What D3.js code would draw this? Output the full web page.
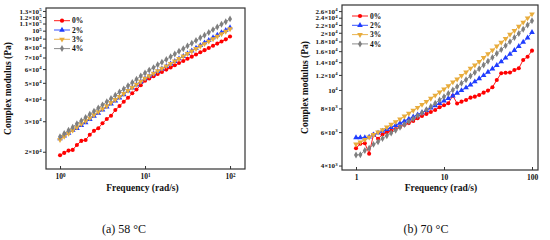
<!DOCTYPE html>
<html>
<head>
<meta charset="utf-8">
<script src="https://cdn.jsdelivr.net/npm/d3@7"></script>
<style>
  body { margin: 0; background: #fff; }
  svg { display: block; }
  text { font-family: "Liberation Serif", "Times New Roman", serif; }
</style>
</head>
<body>
<div id="chart"></div>
<script>
// frequency points, rad/s (same sweep in both tests)
const freq = [1, 1.12, 1.26, 1.41, 1.58, 1.78, 2, 2.24, 2.51, 2.82, 3.16, 3.55, 3.98, 4.47, 5.01,
  5.62, 6.31, 7.08, 7.94, 8.91, 10, 11.2, 12.6, 14.1, 15.8, 17.8, 20, 22.4, 25.1, 28.2, 31.6,
  35.5, 39.8, 44.7, 50.1, 56.2, 63.1, 70.8, 79.4, 89.1, 100];

const seriesNames = ["0%", "2%", "3%", "4%"];
const seriesColors = ["#ff0000", "#1f3dff", "#e8ac3c", "#7f7f7f"];

// (a) 58 °C, complex modulus in Pa
const a58_0 = [19100, 19700, 20300, 20500, 21900, 23100, 23400, 25100, 26400, 27300, 29200, 30900,
  32300, 34800, 36700, 38900, 41000, 43500, 45800, 48400, 51400, 52900, 54500, 56200, 57800, 59600,
  61300, 63100, 65000, 66900, 68800, 70800, 72900, 75000, 77200, 79500, 81800, 84200, 86600, 89100, 92500];
const a58_2 = [23800, 24700, 25600, 26700, 27300, 28400, 29500, 30800, 32100, 33400, 34900, 36300,
  37800, 39400, 41000, 42700, 44900, 46800, 48700, 50700, 52800, 54600, 56400, 58300, 60200, 62300,
  64400, 66600, 68900, 71200, 73700, 76600, 79400, 82200, 85200, 87900, 91200, 94300, 97700, 100600, 104200];
const a58_3 = [23500, 24500, 25500, 26600, 27700, 28900, 30100, 31300, 32600, 34000, 35400, 36800,
  38400, 40000, 41600, 43300, 45100, 47000, 49000, 51000, 53100, 54900, 56700, 58600, 60500, 62500,
  64600, 66800, 69000, 71300, 73700, 76200, 78700, 81300, 84000, 86800, 89700, 92700, 95800, 99000, 102300];
const a58_4 = [24400, 25500, 26600, 27700, 29000, 30200, 31500, 32900, 34300, 35800, 37300, 38900,
  40600, 42400, 44300, 46100, 48100, 50200, 52400, 54700, 57000, 59200, 61200, 63500, 65800, 68200,
  70800, 73300, 76000, 78700, 81700, 84700, 87700, 91000, 94200, 97700, 101400, 105000, 108900, 112700, 117000];

// (b) 70 °C, complex modulus in Pa
const b70_0 = [4930, 5210, 5240, 4620, 5820, 5540, 5830, 5990, 6100, 6230, 6390, 6550, 6690, 6870,
  7100, 7300, 7480, 7660, 7850, 8110, 8310, 8510, 9330, 8480, 8680, 8860, 9110, 9220, 9410, 9680,
  9920, 10330, 11290, 12240, 12330, 12350, 12740, 13010, 14390, 14970, 16100];
const b70_2 = [5620, 5620, 5610, 5660, 5800, 5940, 6070, 6210, 6360, 6520, 6690, 6860, 7040, 7220,
  7410, 7610, 7820, 8040, 8270, 8510, 8760, 9030, 9310, 9620, 9940, 10280, 10650, 11050, 11470,
  11920, 12410, 12930, 13490, 14090, 14740, 15430, 16180, 16980, 17850, 18800, 20120];
const b70_3 = [5180, 5320, 5480, 5640, 5810, 5990, 6170, 6370, 6580, 6800, 7030, 7270, 7530, 7800,
  8080, 8380, 8690, 9020, 9370, 9740, 10100, 10500, 11000, 11400, 11900, 12400, 13000, 13500, 14100,
  14800, 15500, 16200, 17000, 17800, 18600, 19600, 20500, 21600, 22700, 23900, 25100];
const b70_4 = [4550, 4560, 4800, 4930, 5170, 5340, 5550, 5740, 5940, 6140, 6360, 6580, 6820, 7060,
  7320, 7590, 7880, 8190, 8510, 8850, 9210, 9590, 9990, 10410, 10860, 11330, 11840, 12360, 12930,
  13530, 14160, 14830, 15550, 16300, 17110, 17960, 18880, 19840, 20870, 21960, 23130];

// tick values and labels ([base, superscript])
const aXTicks = [1, 10, 100];
const aXLabels = [["10", "0"], ["10", "1"], ["10", "2"]];
const aYTicks = [20000, 30000, 40000, 50000, 60000, 70000, 80000, 90000, 100000, 110000, 120000, 130000];
const aYLabels = [["2\u00d710", "4"], ["3\u00d710", "4"], ["4\u00d710", "4"], ["5\u00d710", "4"],
  ["6\u00d710", "4"], ["7\u00d710", "4"], ["8\u00d710", "4"], ["9\u00d710", "4"], ["10", "5"],
  ["1.1\u00d710", "5"], ["1.2\u00d710", "5"], ["1.3\u00d710", "5"]];
const bXTicks = [1, 10, 100];
const bXLabels = [["1", ""], ["10", ""], ["100", ""]];
const bYTicks = [4000, 6000, 8000, 10000, 12000, 14000, 16000, 18000, 20000, 22000, 24000, 26000];
const bYLabels = [["4\u00d710", "3"], ["6\u00d710", "3"], ["8\u00d710", "3"], ["10", "4"],
  ["1.2\u00d710", "4"], ["1.4\u00d710", "4"], ["1.6\u00d710", "4"], ["1.8\u00d710", "4"],
  ["2\u00d710", "4"], ["2.2\u00d710", "4"], ["2.4\u00d710", "4"], ["2.6\u00d710", "4"]];

const symbols = [
  { type: d3.symbolCircle, rotate: 0 },
  { type: d3.symbolTriangle, rotate: 0 },
  { type: d3.symbolTriangle, rotate: 180 },
  { type: d3.symbolDiamond, rotate: 0 }
];

const svg = d3.select("#chart").append("svg")
  .attr("width", 550)
  .attr("height", 240);

// rewrite axis labels as base + raised exponent
function supLabels(sel, labels, size) {
  sel.selectAll(".tick text").each(function (d, i) {
    const t = d3.select(this).text(null)
      .attr("font-size", size).attr("font-weight", "bold").attr("fill", "#111");
    t.append("tspan").text(labels[i][0]);
    if (labels[i][1]) {
      t.append("tspan").attr("dy", -2.8).attr("font-size", size * 0.68).text(labels[i][1]);
    }
  });
}

function drawPanel(p) {
  const x = d3.scaleLog().domain(p.xDomain).range([p.left, p.right]);
  const y = d3.scaleLog().domain(p.yDomain).range([p.bottom, p.top]);
  const g = svg.append("g");

  // x axis, ticks pointing in
  const xAxis = g.append("g")
    .attr("transform", "translate(0," + p.bottom + ")")
    .call(d3.axisBottom(x).tickValues(p.xTicks)
      .tickSizeInner(-3).tickSizeOuter(0).tickPadding(5));
  xAxis.select(".domain").remove();
  xAxis.selectAll("line").attr("stroke", "#333");
  supLabels(xAxis, p.xLabels, 7.5);

  const yAxis = g.append("g")
    .attr("transform", "translate(" + p.left + ",0)")
    .call(d3.axisLeft(y).tickValues(p.yTicks)
      .tickSizeInner(3).tickSizeOuter(0).tickPadding(1.5));
  yAxis.select(".domain").remove();
  yAxis.selectAll("line").attr("stroke", "#333");
  supLabels(yAxis, p.yLabels, 7);

  // frame
  g.append("rect")
    .attr("x", p.left).attr("y", p.top)
    .attr("width", p.right - p.left).attr("height", p.bottom - p.top)
    .attr("fill", "none").attr("stroke", "#333").attr("stroke-width", 1.2);

  const line = d3.line()
    .x(function (d) { return x(d[0]); })
    .y(function (d) { return y(d[1]); });

  p.series.forEach(function (vals, k) {
    const pts = freq.map(function (f, i) { return [f, vals[i]]; });
    g.append("path").datum(pts)
      .attr("d", line)
      .attr("fill", "none")
      .attr("stroke", seriesColors[k])
      .attr("stroke-width", 0.9);
    const sym = d3.symbol().type(symbols[k].type).size(k === 0 ? 13 : 14);
    g.append("g").selectAll("path")
      .data(pts)
      .enter()
      .append("path")
      .attr("d", sym)
      .attr("transform", function (d) {
        return "translate(" + x(d[0]) + "," + y(d[1]) + ") rotate(" + symbols[k].rotate + ")";
      })
      .attr("fill", seriesColors[k]);
  });

  // legend
  seriesNames.forEach(function (name, k) {
    const ly = p.legendY + k * 9.3;
    g.append("line")
      .attr("x1", p.legendX).attr("x2", p.legendX + 16)
      .attr("y1", ly).attr("y2", ly)
      .attr("stroke", seriesColors[k]).attr("stroke-width", 0.9);
    g.append("path")
      .attr("d", d3.symbol().type(symbols[k].type).size(14))
      .attr("transform", "translate(" + (p.legendX + 8) + "," + ly + ") rotate(" + symbols[k].rotate + ")")
      .attr("fill", seriesColors[k]);
    g.append("text")
      .attr("x", p.legendX + 18).attr("y", ly + 2.6)
      .attr("font-size", 7.5).attr("font-weight", "bold").attr("fill", "#111")
      .text(name);
  });

  // axis titles
  g.append("text")
    .attr("x", (p.left + p.right) / 2 + p.xTitleShift).attr("y", 191)
    .attr("text-anchor", "middle")
    .attr("font-size", 9.5).attr("font-weight", "bold").attr("fill", "#111")
    .text("Frequency (rad/s)");
  g.append("text")
    .attr("transform", "translate(" + p.yTitleX + "," + (p.top + p.bottom) / 2 + ") rotate(-90)")
    .attr("text-anchor", "middle")
    .attr("font-size", 9.5).attr("font-weight", "bold").attr("fill", "#111")
    .text("Complex modulus (Pa)");

  // caption
  g.append("text")
    .attr("x", p.captionX).attr("y", 233)
    .attr("text-anchor", "middle")
    .attr("font-size", 12).attr("fill", "#111")
    .text(p.caption);
}

drawPanel({
  left: 46, right: 245, top: 8, bottom: 169,
  xDomain: [0.684, 150], yDomain: [15900, 135200],
  xTicks: aXTicks, xLabels: aXLabels, yTicks: aYTicks, yLabels: aYLabels,
  series: [a58_0, a58_2, a58_3, a58_4],
  legendX: 54, legendY: 20.7,
  xTitleShift: -3, yTitleX: 11,
  captionX: 124, caption: "(a) 58 \u00b0C"
});

drawPanel({
  left: 342, right: 538, top: 5, bottom: 170,
  xDomain: [0.693, 117], yDomain: [3790, 28000],
  xTicks: bXTicks, xLabels: bXLabels, yTicks: bYTicks, yLabels: bYLabels,
  series: [b70_0, b70_2, b70_3, b70_4],
  legendX: 352, legendY: 16,
  xTitleShift: 1, yTitleX: 308,
  captionX: 426, caption: "(b) 70 \u00b0C"
});
</script>
</body>
</html>
